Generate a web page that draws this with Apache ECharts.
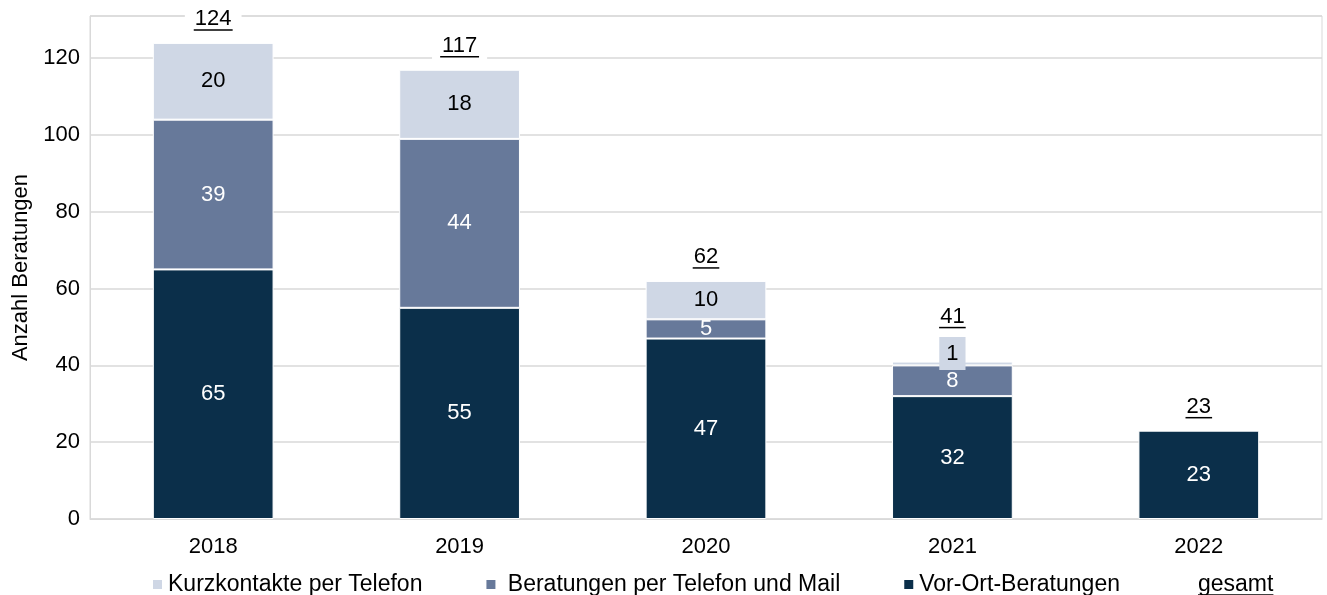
<!DOCTYPE html>
<html>
<head>
<meta charset="utf-8">
<script src="https://cdn.jsdelivr.net/npm/echarts@6/dist/echarts.min.js"></script>
<style>
  html, body { margin: 0; padding: 0; background: #fff; }
  #chart { width: 1327px; height: 595px; }
</style>
</head>
<body>
<div id="chart"></div>
<script>
const years = ['2018', '2019', '2020', '2021', '2022']
const kurzkontakte = [20, 18, 10, 1, null]
const beratungenTelMail = [39, 44, 5, 8, null]
const vorOrt = [65, 55, 47, 32, 23]
const gesamt = [124, 117, 62, 41, 23]
const yTicks = { min: 0, max: 131, interval: 20 }

const FONT = '"Liberation Sans", Arial, sans-serif'
const C_LIGHT = '#cfd7e5'
const C_MID = '#67799a'
const C_DARK = '#0b2f4a'

// 2021: der "1"-Kasten ragt über den Balken, Summe deshalb höher setzen
const totalLift = { 3: 21 }

const chart = echarts.init(document.getElementById('chart'))

const barLabel = (color) => ({
  show: true,
  position: 'inside',
  color: color,
  fontSize: 22,
  fontFamily: FONT,
})

const option = {
  animation: false,
  backgroundColor: '#fff',
  textStyle: { fontFamily: FONT },
  grid: {
    left: 90, right: 5, top: 16, bottom: 76,
    show: true, borderColor: '#d9d9d9', borderWidth: 1,
  },
  legend: {
    left: 146, top: 568,
    itemWidth: 11, itemHeight: 11, itemGap: 62,
    textStyle: { fontSize: 23, fontFamily: FONT, color: '#000' },
    formatter: (name) => name === 'Beratungen per Telefon und Mail' ? ' ' + name : name,
    data: [
      { name: 'Kurzkontakte per Telefon', icon: 'rect' },
      { name: 'Beratungen per Telefon und Mail', icon: 'rect' },
      { name: 'Vor-Ort-Beratungen', icon: 'rect' },
      { name: 'gesamt', icon: 'none' },
    ],
  },
  xAxis: {
    type: 'category',
    data: years,
    axisTick: { show: false },
    axisLine: { lineStyle: { color: '#d9d9d9', width: 1 } },
    axisLabel: { color: '#000', fontSize: 22, fontFamily: FONT, margin: 17 },
  },
  yAxis: {
    type: 'value',
    min: yTicks.min, max: yTicks.max, interval: yTicks.interval,
    name: 'Anzahl Beratungen',
    nameLocation: 'middle',
    nameGap: 58,
    nameTextStyle: { color: '#000', fontSize: 22, fontFamily: FONT },
    axisLine: { show: true, lineStyle: { color: '#d9d9d9' } },
    axisTick: { show: false },
    axisLabel: { color: '#000', fontSize: 22, fontFamily: FONT, margin: 10, showMaxLabel: false },
    splitLine: { lineStyle: { color: '#d9d9d9', width: 1.5 } },
  },
  series: [
    {
      name: 'Vor-Ort-Beratungen',
      type: 'bar', stack: 'all', barWidth: '49%',
      data: vorOrt,
      itemStyle: { color: C_DARK, borderColor: '#fff', borderWidth: 1 },
      label: barLabel('#fff'),
    },
    {
      name: 'Beratungen per Telefon und Mail',
      type: 'bar', stack: 'all',
      data: beratungenTelMail,
      itemStyle: { color: C_MID, borderColor: '#fff', borderWidth: 1 },
      label: barLabel('#fff'),
    },
    {
      name: 'Kurzkontakte per Telefon',
      type: 'bar', stack: 'all',
      data: kurzkontakte.map((v, i) => i === 3
        ? { value: v, label: { backgroundColor: C_LIGHT, padding: [6, 7, 5, 7], offset: [0, -10] } }
        : v),
      itemStyle: { color: C_LIGHT, borderColor: '#fff', borderWidth: 1 },
      label: barLabel('#000'),
    },
    {
      name: 'gesamt',
      type: 'custom',
      z: 10,
      clip: false,
      itemStyle: { color: 'transparent' },
      data: gesamt.map((v, i) => [i, v]),
      encode: { x: 0, y: 1 },
      renderItem: (params, api) => {
        const idx = api.value(0)
        const v = api.value(1)
        const p = api.coord([idx, v])
        const txt = String(v)
        const w = txt.length * 12.3 + 2
        const cy = p[1] - 24 - (totalLift[params.dataIndex] || 0)
        return {
          type: 'group',
          children: [
            {
              type: 'text', x: p[0], y: cy,
              style: {
                text: txt, fill: '#000', fontSize: 22, fontFamily: FONT,
                align: 'center', verticalAlign: 'middle',
                backgroundColor: '#fff', padding: [2, 10, 4, 10],
              },
            },
            {
              type: 'line',
              shape: { x1: p[0] - w / 2, y1: cy + 11, x2: p[0] + w / 2, y2: cy + 11 },
              style: { stroke: '#000', lineWidth: 1.5 },
            },
          ],
        }
      },
    },
  ],
}

chart.setOption(option)

// Unterstreichung für "gesamt" in der Legende, an der gerenderten Textposition ausrichten
const legendView = chart._componentsViews.find(v => v.type === 'legend.plain')
let ul = null
if (legendView) {
  legendView.group.traverse(el => {
    if (el.type === 'text' && el.style && el.style.text === 'gesamt') {
      const r = el.getBoundingRect().clone()
      r.applyTransform(el.getComputedTransform())
      ul = { x1: r.x, x2: r.x + r.width, y: r.y + r.height - 1 }
    }
  })
}
if (ul) {
  chart.setOption({
    graphic: [{
      type: 'line',
      shape: { x1: ul.x1, y1: ul.y, x2: ul.x2, y2: ul.y },
      style: { stroke: '#000', lineWidth: 1.5 },
    }],
  })
}
</script>
</body>
</html>
